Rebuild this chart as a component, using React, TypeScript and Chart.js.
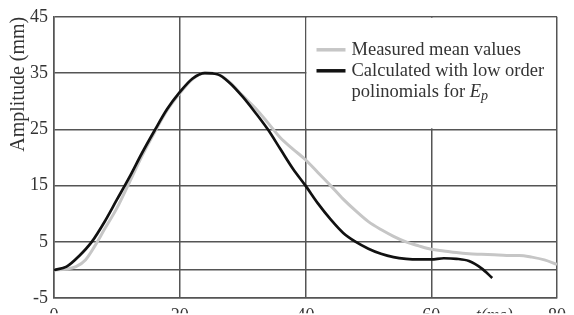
import React, { useEffect, useRef } from "react";
import { Chart, registerables } from "chart.js";

Chart.register(...registerables);

// Measured mean values (grey curve)
const measuredT = [0, 2, 3.5, 5, 6.5, 8, 10, 12, 14, 16, 18, 20, 22, 24, 26, 28, 30, 32, 34, 36, 38, 40, 42, 44, 46, 48, 50, 52, 54, 56, 58, 60, 62, 64, 66, 68, 70, 72, 74, 76, 78, 80];
const measuredV = [0, 0.2, 0.6, 1.8, 4.3, 7.2, 11, 15.6, 20.3, 24.5, 28.4, 31.4, 33.9, 35, 34.8, 33.3, 31, 28.8, 26.2, 23.5, 21.5, 19.6, 17.3, 15, 12.6, 10.5, 8.6, 7.2, 6, 5, 4.3, 3.7, 3.4, 3.1, 2.9, 2.8, 2.7, 2.6, 2.6, 2.3, 1.8, 1.0];

// Calculated with low order polynomials (black curve)
const calcT = [0, 2, 4, 6, 8, 10, 12, 14, 16, 18, 20, 22, 24, 26, 28, 30, 32, 34, 36, 38, 40, 42, 44, 46, 48, 50, 52, 54, 56, 58, 60, 62, 64, 66, 68, 69.7];
const calcV = [0, 0.6, 2.5, 5, 8.5, 12.5, 16.5, 20.8, 24.8, 28.6, 31.6, 34, 35, 34.8, 33.2, 30.8, 28, 25, 21.5, 18, 15, 11.8, 9, 6.6, 5, 3.8, 2.9, 2.3, 2, 1.9, 1.9, 2.1, 2, 1.6, 0.3, -1.4];

const xTicks = [0, 20, 40, 60, 70, 80];
const xTickLabels = ["0", "20", "40", "60", "t(ms)", "80"];
const yTicks = [-5, 0, 5, 15, 25, 35, 45];
const yTickLabels = ["-5", "", "5", "15", "25", "35", "45"];

const legendLabels = ["Measured mean values", "Calculated with low order", "polinomials for "];

const SERIF = "'Liberation Serif', 'DejaVu Serif', serif";
const GRID = "#555";
const TEXT = "#333";
const GREY = "#c6c6c6";

const legendBoxPlugin = {
  id: "legendBox",
  beforeDatasetsDraw(chart: any) {
    const { ctx, scales } = chart;
    const x = scales.x, y = scales.y;
    const l = x.getPixelForValue(40), r = x.getPixelForValue(80);
    const t = y.getPixelForValue(45), b = y.getPixelForValue(25);
    ctx.save();
    ctx.fillStyle = "#fff";
    ctx.fillRect(l + 1, t + 1, r - l - 2, b - t - 2);
    ctx.restore();
  },
  afterDatasetsDraw(chart: any) {
    const { ctx, scales } = chart;
    const x = scales.x, y = scales.y;
    const l = x.getPixelForValue(40);
    const t = y.getPixelForValue(45);
    const sx0 = l + 11, sx1 = l + 40, tx = l + 46;
    const rows = [t + 33, t + 54, t + 75];
    ctx.save();
    ctx.lineWidth = 3.5;
    ctx.strokeStyle = GREY;
    ctx.beginPath(); ctx.moveTo(sx0, rows[0]); ctx.lineTo(sx1, rows[0]); ctx.stroke();
    ctx.strokeStyle = "#111";
    ctx.beginPath(); ctx.moveTo(sx0, rows[1]); ctx.lineTo(sx1, rows[1]); ctx.stroke();
    ctx.fillStyle = TEXT;
    ctx.textBaseline = "middle";
    ctx.textAlign = "left";
    ctx.font = `18.5px ${SERIF}`;
    legendLabels.forEach((s, i) => ctx.fillText(s, tx, rows[i]));
    const w = ctx.measureText(legendLabels[2]).width;
    ctx.font = `italic 18.5px ${SERIF}`;
    ctx.fillText("E", tx + w, rows[2]);
    const we = ctx.measureText("E").width;
    ctx.font = `italic 14px ${SERIF}`;
    ctx.fillText("p", tx + w + we, rows[2] + 5);
    ctx.restore();
  },
};

export default function App() {
  const ref = useRef<HTMLCanvasElement>(null);

  useEffect(() => {
    if (!ref.current) return;
    const chart = new Chart(ref.current, {
      type: "line",
      data: {
        datasets: [
          {
            label: "Measured mean values",
            data: measuredT.map((t, i) => ({ x: t, y: measuredV[i] })),
            borderColor: GREY,
            borderWidth: 3,
            pointRadius: 0,
            order: 2,
            cubicInterpolationMode: "monotone",
          },
          {
            label: "Calculated with low order polinomials for Ep",
            data: calcT.map((t, i) => ({ x: t, y: calcV[i] })),
            borderColor: "#111",
            borderWidth: 2.7,
            pointRadius: 0,
            order: 1,
            cubicInterpolationMode: "monotone",
          },
        ],
      },
      options: {
        responsive: false,
        animation: false,
        layout: { padding: { top: 15, right: 17, left: 0, bottom: 0 } },
        plugins: { legend: { display: false }, tooltip: { enabled: false } },
        scales: {
          x: {
            type: "linear",
            min: 0,
            max: 80,
            afterBuildTicks: (s: any) => {
              s.ticks = xTicks.map((v) => ({ value: v }));
            },
            afterFit: (s: any) => {
              s.height = 15;
            },
            grid: {
              color: (c: any) => (c.tick && c.tick.value === 70 ? "rgba(0,0,0,0)" : GRID),
              lineWidth: 1.5,
              drawTicks: false,
            },
            border: { color: GRID, width: 1.5 },
            ticks: {
              padding: 7,
              color: TEXT,
              maxRotation: 0,
              autoSkip: false,
              font: (c: any) =>
                c.tick && c.tick.value === 70
                  ? { family: SERIF, size: 18, style: "italic" }
                  : { family: SERIF, size: 18 },
              callback: (v: any) => xTickLabels[xTicks.indexOf(Number(v))] ?? "",
            },
          },
          y: {
            type: "linear",
            min: -5,
            max: 45,
            afterBuildTicks: (s: any) => {
              s.ticks = yTicks.map((v) => ({ value: v }));
            },
            afterFit: (s: any) => {
              s.width = 54;
            },
            grid: { color: GRID, lineWidth: 1.5, drawTicks: false },
            border: { color: GRID, width: 1.5 },
            ticks: {
              padding: 6,
              color: TEXT,
              autoSkip: false,
              font: { family: SERIF, size: 18 },
              callback: (v: any) => yTickLabels[yTicks.indexOf(Number(v))] ?? "",
            },
            title: {
              display: true,
              text: "Amplitude (mm)",
              align: "end",
              color: TEXT,
              font: { family: SERIF, size: 20 },
              padding: { top: 7, bottom: 0 },
            },
          },
        },
      },
      plugins: [legendBoxPlugin],
    });
    return () => chart.destroy();
  }, []);

  return (
    <div style={{ position: "absolute", left: 0, top: 0, width: 574, height: 315, background: "#fff" }}>
      <canvas ref={ref} width={574} height={315} />
    </div>
  );
}
